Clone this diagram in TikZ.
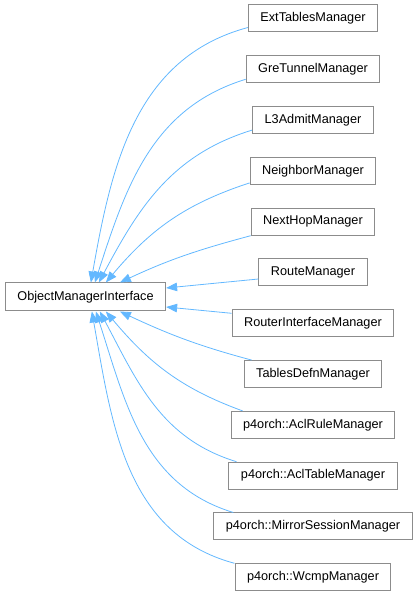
\documentclass[tikz,border=0pt]{standalone}
\usepackage{fontspec}
\setmainfont{Liberation Sans}
\usetikzlibrary{arrows.meta}
\definecolor{edgeblue}{HTML}{63B8FF}
\definecolor{boxgray}{HTML}{8C8C8C}
\tikzset{
  cls/.style={draw=boxgray,line width=1pt,fill=white,inner xsep=12pt,
    minimum height=27pt,font=\fontsize{12.7}{15}\selectfont},
  inh/.style={draw=edgeblue,line width=0.8pt,-{Triangle[length=11pt,width=8.5pt]}}
}
\begin{document}
\begin{tikzpicture}[x=1pt,y=1pt]
\useasboundingbox (0,0) rectangle (417,595);
% base class
\node[cls,minimum height=28pt] (omi) at (85.5,298) {ObjectManagerInterface};
% derived classes
\node[cls] (ext) at (313,576.5) {ExtTablesManager};
\node[cls] (gre) at (313,525.7) {GreTunnelManager};
\node[cls] (l3a) at (313,474.9) {L3AdmitManager};
\node[cls] (nbr) at (313,424.1) {NeighborManager};
\node[cls] (nhop) at (313,373.3) {NextHopManager};
\node[cls] (route) at (313,322.5) {RouteManager};
\node[cls] (rif) at (313,271.7) {RouterInterfaceManager};
\node[cls] (tdefn) at (313,220.9) {TablesDefnManager};
\node[cls] (aclrule) at (313,170.1) {p4orch::AclRuleManager};
\node[cls] (acltable) at (313,119.3) {p4orch::AclTableManager};
\node[cls] (mirror) at (313,68.5) {p4orch::MirrorSessionManager};
\node[cls] (wcmp) at (313,17.7) {p4orch::WcmpManager};
% upper edges
\draw[inh] ([yshift=5pt]ext.south west) to[out=195,in=80] ([xshift=86pt]omi.north west);
\draw[inh] ([yshift=4pt]gre.south west) to[out=197,in=72] ([xshift=90pt]omi.north west);
\draw[inh] ([yshift=4pt]l3a.south west) to[out=197,in=62] ([xshift=94pt]omi.north west);
\draw[inh] ([yshift=2pt]nbr.south west) to[out=198,in=50] ([xshift=101pt]omi.north west);
\draw[inh] (nhop.south west) to[out=195,in=25] ([xshift=115pt]omi.north west);
% straight edges
\draw[inh] ([yshift=-6.5pt]route.west) -- ([yshift=9pt]omi.east);
\draw[inh] ([yshift=10pt]rif.west) -- ([yshift=-10pt]omi.east);
% lower edges
\draw[inh] ([xshift=8pt]tdefn.north west) to[out=165,in=-25] ([xshift=115pt]omi.south west);
\draw[inh] ([xshift=12pt]aclrule.north west) to[out=160,in=-50] ([xshift=101pt]omi.south west);
\draw[inh] ([xshift=8pt]acltable.north west) to[out=163,in=-62] ([xshift=95pt]omi.south west);
\draw[inh] ([xshift=20pt]mirror.north west) to[out=163,in=-72] ([xshift=91pt]omi.south west);
\draw[inh] (wcmp.north west) to[out=165,in=-80] ([xshift=87pt]omi.south west);
\end{tikzpicture}
\end{document}
